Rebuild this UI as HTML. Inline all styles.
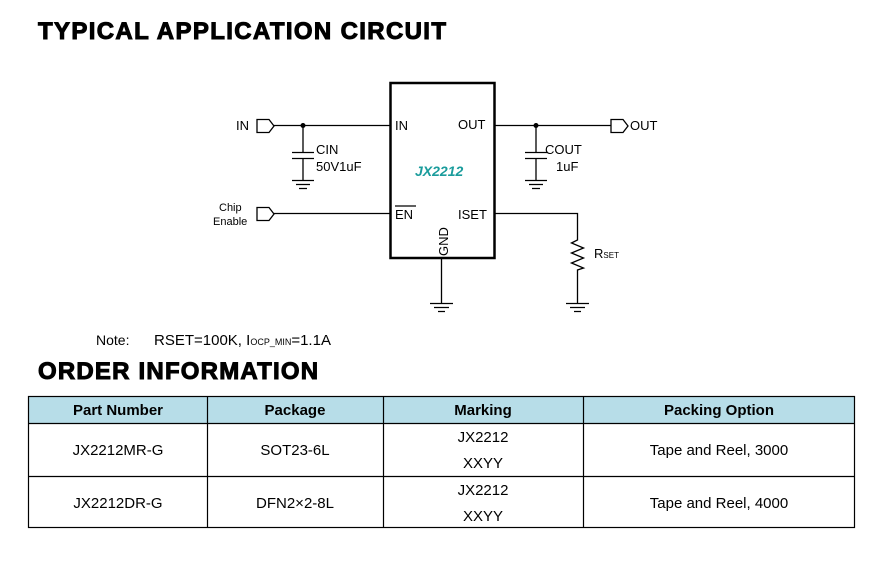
<!DOCTYPE html>
<html><head><meta charset="utf-8"><style>
html,body{margin:0;padding:0;background:#fff;width:871px;height:580px;overflow:hidden}
svg{display:block}
text{font-family:"Liberation Sans",Arial,sans-serif;fill:#000}
</style></head><body>
<svg width="871" height="580" viewBox="0 0 871 580" xmlns="http://www.w3.org/2000/svg">
<text x="38" y="39" font-size="24" font-weight="bold" letter-spacing="1.35" stroke="#000" stroke-width="1">TYPICAL APPLICATION CIRCUIT</text>
<g stroke="#000" stroke-width="1.3" fill="none">
<rect x="390.5" y="83" width="104" height="175" stroke-width="2.5"/>
<path d="M257 119.5h12l5 6.5-5 6.5h-12z"/>
<path d="M274 125.5H390"/>
<path d="M303 125.5V152M292 152.5h22M292 158.5h22M303 158V180M292 180.5h22M296 184.5h14M299 188.5h8"/>
<path d="M257 207.5h12l5 6.5-5 6.5h-12z"/>
<path d="M274 213.5H390"/>
<path d="M495 125.5H611"/>
<path d="M611 119.5h12l5 6.5-5 6.5h-12z"/>
<path d="M536 125.5V152M525 152.5h22M525 158.5h22M536 158V180M525 180.5h22M529 184.5h14M532 188.5h8"/>
<path d="M495 213.5H577.5V240l-6 3 12 5-12 5 12 5-12 5 12 5-6 2V303M566 303.5h23M570 307.5h15M574 311.5h7"/>
<path d="M441.5 258V303M430 303.5h23M434 307.5h15M438 311.5h7"/>
<path d="M395 206h21"/>
</g>
<circle cx="303" cy="125.5" r="2.5"/><circle cx="536" cy="125.5" r="2.5"/>
<g font-size="13">
<text x="236" y="130">IN</text>
<text x="395" y="130">IN</text>
<text x="458" y="129">OUT</text>
<text x="630" y="130">OUT</text>
<text x="395" y="219">EN</text>
<text x="458" y="219">ISET</text>
<text x="316" y="154">CIN</text>
<text x="316" y="171">50V1uF</text>
<text x="545" y="154">COUT</text>
<text x="556" y="171">1uF</text>
<text x="448" y="256" transform="rotate(-90 448 256)">GND</text>
<text x="594" y="258">R<tspan font-size="8">SET</tspan></text>
</g>
<text x="219" y="211" font-size="11">Chip</text>
<text x="213" y="225" font-size="11">Enable</text>
<text x="415" y="176" font-size="14" font-weight="bold" font-style="italic" style="fill:#1a9c9c">JX2212</text>
<text x="96" y="345" font-size="14">Note:</text>
<text x="154" y="345" font-size="15">RSET=100K, I<tspan font-size="9">OCP_MIN</tspan>=1.1A</text>
<text x="38" y="379" font-size="24" font-weight="bold" letter-spacing="1.2" stroke="#000" stroke-width="1">ORDER INFORMATION</text>
<rect x="28" y="396" width="827" height="27" fill="#b7dde8"/>
<g stroke="#000" stroke-width="1.2" fill="none">
<rect x="28.5" y="396.5" width="826" height="131"/>
<path d="M28 423.5H855M28 476.5H855M207.5 396V528M383.5 396V528M583.5 396V528"/>
</g>
<g font-size="15" text-anchor="middle">
<g font-weight="bold"><text x="118" y="415">Part Number</text><text x="295" y="415">Package</text><text x="483" y="415">Marking</text><text x="719" y="415">Packing Option</text></g>
<text x="118" y="455">JX2212MR-G</text><text x="295" y="455">SOT23-6L</text><text x="483" y="442">JX2212</text><text x="483" y="468">XXYY</text><text x="719" y="455">Tape and Reel, 3000</text>
<text x="118" y="508">JX2212DR-G</text><text x="295" y="508">DFN2×2-8L</text><text x="483" y="495">JX2212</text><text x="483" y="521">XXYY</text><text x="719" y="508">Tape and Reel, 4000</text>
</g>
</svg>
</body></html>
